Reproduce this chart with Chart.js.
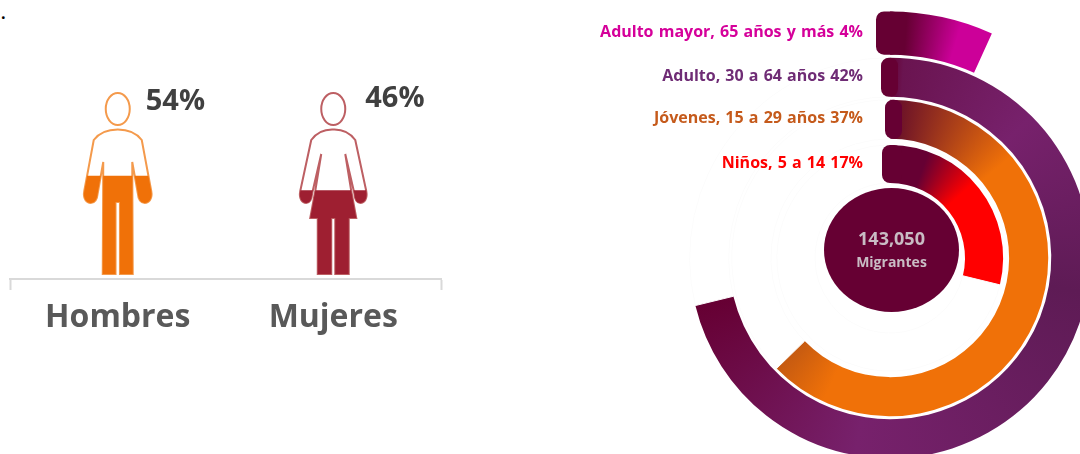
<!DOCTYPE html>
<html>
<head>
<meta charset="utf-8">
<script src="https://cdn.jsdelivr.net/npm/chart.js@4"></script>
<style>
  html, body { margin: 0; padding: 0; background: #fff; overflow: hidden; width: 1080px; height: 454px; }
  canvas { position: absolute; }
  #sexo { left: 0; top: 0; }
  #edad { left: 540px; top: -92px; }
  #punto { position: absolute; left: 1px; top: 2px; font: bold 16px "Open Sans"; color: #000; }
</style>
</head>
<body>
<div id="punto">.</div>
<canvas id="sexo" width="540" height="454"></canvas>
<canvas id="edad" width="700" height="700"></canvas>
<script>
const sexos = ['Hombres', 'Mujeres'];
const sexoValores = [54, 46];
const sexoColores = ['#f07108', '#9e1f31'];
const sexoBordes = ['#f49a4c', '#bd5f63'];

const edades = ['Adulto mayor, 65 años y más', 'Adulto, 30 a 64 años', 'Jóvenes, 15 a 29 años', 'Niños, 5 a 14'];
const edadValores = [4, 42, 37, 17];
const edadResto = [55, 17, 22, 42];
const edadColores = ['#d5009a', '#6f2c75', '#c55a1b', '#ff0000'];
const totalMigrantes = '143,050';
const totalTexto = 'Migrantes';

// person outline, offsets from the centre of the bar and the 100% line
function persona(ctx, cx, top, mujer) {
  const p = (s, x) => cx + s * x;
  ctx.moveTo(cx + 12, top + 16);
  ctx.ellipse(cx, top + 16, 12, 16, 0, 0, Math.PI * 2);
  ctx.moveTo(cx, top + 36.5);
  if (mujer) {
    ctx.quadraticCurveTo(p(1, 14), top + 36, p(1, 22), top + 47);
    ctx.lineTo(p(1, 33), top + 98);
    ctx.bezierCurveTo(p(1, 34.5), top + 106, p(1, 31), top + 110, p(1, 27), top + 110);
    ctx.bezierCurveTo(p(1, 23), top + 110, p(1, 21.5), top + 106, p(1, 21), top + 100);
    ctx.lineTo(p(1, 12), top + 61);
    ctx.lineTo(p(1, 18), top + 98);
    ctx.lineTo(p(1, 23), top + 125);
    ctx.lineTo(p(1, 15.5), top + 125);
    ctx.lineTo(p(1, 15.5), top + 181);
    ctx.lineTo(p(1, 2), top + 181);
    ctx.lineTo(p(1, 2), top + 125);
    ctx.lineTo(p(-1, 2), top + 125);
    ctx.lineTo(p(-1, 2), top + 181);
    ctx.lineTo(p(-1, 15.5), top + 181);
    ctx.lineTo(p(-1, 15.5), top + 125);
    ctx.lineTo(p(-1, 23), top + 125);
    ctx.lineTo(p(-1, 18), top + 98);
    ctx.lineTo(p(-1, 12), top + 61);
    ctx.lineTo(p(-1, 21), top + 100);
    ctx.bezierCurveTo(p(-1, 21.5), top + 106, p(-1, 23), top + 110, p(-1, 27), top + 110);
    ctx.bezierCurveTo(p(-1, 31), top + 110, p(-1, 34.5), top + 106, p(-1, 33), top + 98);
    ctx.lineTo(p(-1, 22), top + 47);
    ctx.quadraticCurveTo(p(-1, 14), top + 36, cx, top + 36.5);
  } else {
    ctx.quadraticCurveTo(p(1, 16), top + 36.5, p(1, 24), top + 47);
    ctx.lineTo(p(1, 33.5), top + 98);
    ctx.bezierCurveTo(p(1, 35), top + 106, p(1, 31), top + 110, p(1, 27), top + 110);
    ctx.bezierCurveTo(p(1, 23), top + 110, p(1, 20.5), top + 106, p(1, 20), top + 100);
    ctx.lineTo(p(1, 14.5), top + 69);
    ctx.lineTo(p(1, 15), top + 181);
    ctx.lineTo(p(1, 2.2), top + 181);
    ctx.lineTo(p(1, 2.2), top + 109);
    ctx.lineTo(p(-1, 2.2), top + 109);
    ctx.lineTo(p(-1, 2.2), top + 181);
    ctx.lineTo(p(-1, 15), top + 181);
    ctx.lineTo(p(-1, 14.5), top + 69);
    ctx.lineTo(p(-1, 20), top + 100);
    ctx.bezierCurveTo(p(-1, 20.5), top + 106, p(-1, 23), top + 110, p(-1, 27), top + 110);
    ctx.bezierCurveTo(p(-1, 31), top + 110, p(-1, 35), top + 106, p(-1, 33.5), top + 98);
    ctx.lineTo(p(-1, 24), top + 47);
    ctx.quadraticCurveTo(p(-1, 16), top + 36.5, cx, top + 36.5);
  }
  ctx.closePath();
}

const siluetas = {
  id: 'siluetas',
  beforeDatasetsDraw(chart) {
    const { ctx, scales } = chart;
    // outline goes under the bars, so the fill covers its inner half
    sexos.forEach((s, i) => {
      ctx.save();
      ctx.beginPath();
      persona(ctx, scales.x.getPixelForValue(i), scales.y.getPixelForValue(100), i === 1);
      ctx.strokeStyle = sexoBordes[i];
      ctx.lineWidth = 2;
      ctx.stroke();
      ctx.restore();
    });
    ctx.save();
    ctx.beginPath();
    sexos.forEach((s, i) => persona(ctx, scales.x.getPixelForValue(i), scales.y.getPixelForValue(100), i === 1));
    ctx.clip();
  },
  afterDatasetsDraw(chart) {
    const { ctx, scales } = chart;
    ctx.restore();
    sexos.forEach((s, i) => {
      const cx = scales.x.getPixelForValue(i);
      const top = scales.y.getPixelForValue(100);
      ctx.save();
      ctx.fillStyle = '#404040';
      ctx.font = 'bold 29px "Open Sans"';
      ctx.textBaseline = 'middle';
      ctx.fillText(sexoValores[i] + '%', cx + (i === 1 ? 32 : 28), top + (i === 1 ? 6 : 9));
      ctx.restore();
    });
  },
};

new Chart(document.getElementById('sexo'), {
  type: 'bar',
  data: {
    labels: sexos,
    datasets: [{ data: sexoValores, backgroundColor: sexoColores, barPercentage: 1, categoryPercentage: 1 }],
  },
  options: {
    responsive: false,
    animation: false,
    layout: { padding: { left: 10, right: 99, top: 93, bottom: 0 } },
    plugins: { legend: { display: false }, tooltip: { enabled: false } },
    scales: {
      x: {
        afterFit: (s) => { s.height = 175; },
        border: { color: '#d9d9d9', width: 2 },
        grid: {
          offset: true,
          drawOnChartArea: false,
          tickLength: 11,
          tickWidth: 2,
          tickColor: (c) => (c.index === 1 ? 'rgba(0,0,0,0)' : '#d9d9d9'),
        },
        ticks: { color: '#595959', padding: 9, font: { family: 'Open Sans', size: 32, weight: 'bold' } },
      },
      y: { display: false, min: -3, max: 100 },
    },
  },
  plugins: [siluetas],
});

// ring gradients turn around the centre of the canvas, starting at 12 o'clock
const edadCtx = document.getElementById('edad').getContext('2d');
function conico(stops) {
  const g = edadCtx.createConicGradient(-Math.PI / 2, 350, 350);
  stops.forEach(([deg, c]) => g.addColorStop(deg / 360, c));
  return g;
}
const gradientes = [
  conico([[0, '#660033'], [4, '#660033'], [17, '#cc0099'], [360, '#cc0099']]),
  conico([[0, '#660033'], [4, '#6a1450'], [45, '#77216c'], [100, '#5e1b55'], [190, '#77216c'], [256, '#660033'], [360, '#660033']]),
  conico([[0, '#660033'], [5, '#701527'], [50, '#f07108'], [205, '#f07108'], [226, '#c55a11'], [360, '#c55a11']]),
  conico([[0, '#660033'], [20, '#660033'], [48, '#ff0000'], [360, '#ff0000']]),
];
const ghost = '#fcfcfc';
const anillos = edades.map((e, i) => ({
  data: [edadValores[i], edadResto[i]],
  backgroundColor: [gradientes[i], 'rgba(255,255,255,0)'],
  borderColor: ['rgba(0,0,0,0)', i === 0 ? 'rgba(0,0,0,0)' : ghost],
  borderWidth: [0, i === 0 ? 0 : 1],
  weight: [43, 39, 39, 38][i],
}));
const huecos = [3, 3, 6];

const decoracion = {
  id: 'decoracion',
  afterDatasetsDraw(chart) {
    const { ctx } = chart;
    const capX = [-14, -9, -5, -8];
    const capW = [24, 17, 17, 20];
    ctx.save();
    edades.forEach((e, i) => {
      const arc = chart.getDatasetMeta(i * 2).data[0];
      const y = arc.y - arc.outerRadius;
      ctx.fillStyle = '#660033';
      ctx.beginPath();
      ctx.roundRect(arc.x + capX[i], y, capW[i], arc.outerRadius - arc.innerRadius, 8);
      ctx.fill();
      ctx.fillStyle = edadColores[i];
      ctx.font = 'bold 16px "Open Sans"';
      ctx.wordSpacing = '1px';
      ctx.textAlign = 'right';
      ctx.textBaseline = 'middle';
      ctx.fillText(e + ' ' + edadValores[i] + '%', arc.x - 27, y + (arc.outerRadius - arc.innerRadius) / 2 - 1);
    });
    ctx.wordSpacing = '0px';
    // centre disc sits a bit above the ring centre
    const cx = chart.getDatasetMeta(0).data[0].x + 1.5;
    const cy = chart.getDatasetMeta(0).data[0].y - 8;
    ctx.fillStyle = '#660033';
    ctx.beginPath();
    ctx.ellipse(cx, cy, 67.5, 62, 0, 0, Math.PI * 2);
    ctx.fill();
    ctx.fillStyle = '#c9bcc4';
    ctx.textAlign = 'center';
    ctx.font = 'bold 18px "Open Sans"';
    ctx.fillText(totalMigrantes, cx, cy - 10);
    ctx.font = 'bold 14px "Open Sans"';
    ctx.fillText(totalTexto, cx, cy + 13);
    ctx.restore();
  },
};

const edadDatasets = [];
anillos.forEach((a, i) => {
  edadDatasets.push(a);
  if (i < huecos.length) edadDatasets.push({ data: [], weight: huecos[i] });
});

new Chart(edadCtx, {
  type: 'doughnut',
  data: { labels: ['valor', 'resto'], datasets: edadDatasets },
  options: {
    responsive: false,
    animation: false,
    cutout: 75,
    layout: { padding: 103.5 },
    plugins: { legend: { display: false }, tooltip: { enabled: false } },
  },
  plugins: [decoracion],
});
</script>
</body>
</html>
